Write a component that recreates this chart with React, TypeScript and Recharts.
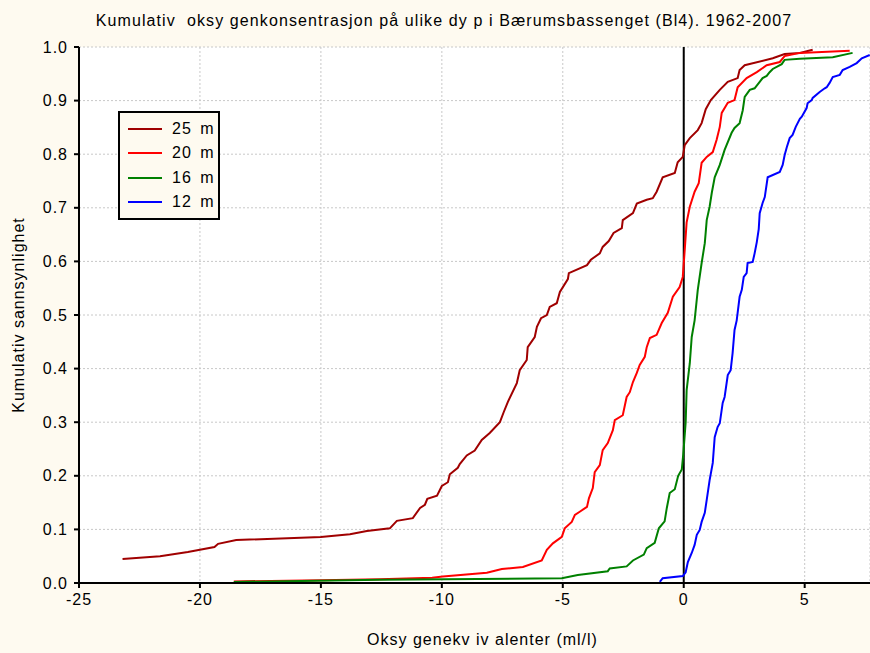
import React from "react";
import {
  LineChart,
  Line,
  XAxis,
  YAxis,
  CartesianGrid,
  ReferenceLine,
} from "recharts";

const xTicks = [-25, -20, -15, -10, -5, 0, 5];
const yTicks = [0, 0.1, 0.2, 0.3, 0.4, 0.5, 0.6, 0.7, 0.8, 0.9, 1.0];

// [oksygenekvivalenter, kumulativ sannsynlighet]
const depth25 = [
  [-23.2, 0.045], [-21.65, 0.05], [-20.5, 0.058], [-19.4, 0.067], [-19.25, 0.073], [-18.5, 0.08],
  [-15.0, 0.086], [-13.8, 0.091], [-13.1, 0.097], [-12.15, 0.102], [-11.86, 0.116], [-11.2, 0.121],
  [-10.9, 0.14], [-10.7, 0.146], [-10.6, 0.157], [-10.2, 0.163], [-10.0, 0.181], [-9.75, 0.188],
  [-9.67, 0.203], [-9.34, 0.215], [-9.26, 0.222], [-8.97, 0.238], [-8.64, 0.247], [-8.35, 0.267],
  [-8.02, 0.28], [-7.6, 0.3], [-7.44, 0.319], [-7.27, 0.338], [-6.9, 0.373], [-6.78, 0.397],
  [-6.49, 0.416], [-6.45, 0.44], [-6.16, 0.459], [-6.07, 0.478], [-5.9, 0.494], [-5.66, 0.5],
  [-5.54, 0.515], [-5.25, 0.522], [-5.12, 0.543], [-4.79, 0.567], [-4.75, 0.578], [-4.0, 0.593],
  [-3.84, 0.603], [-3.47, 0.615], [-3.35, 0.627], [-3.1, 0.638], [-2.9, 0.653], [-2.56, 0.662],
  [-2.52, 0.677], [-2.1, 0.69], [-1.94, 0.708], [-1.53, 0.715], [-1.28, 0.718], [-1.12, 0.73],
  [-0.87, 0.757], [-0.37, 0.765], [-0.25, 0.785], [-0.04, 0.795], [0.04, 0.817], [0.25, 0.83],
  [0.58, 0.845], [0.74, 0.858], [0.91, 0.884], [1.12, 0.901], [1.49, 0.92], [1.82, 0.935],
  [2.23, 0.942], [2.31, 0.957], [2.52, 0.966], [3.68, 0.979], [4.17, 0.987], [4.8, 0.989],
  [5.33, 0.995],
];

const depth20 = [
  [-18.6, 0.003], [-15.0, 0.005], [-12.56, 0.007], [-10.4, 0.01], [-9.96, 0.012], [-8.14, 0.019],
  [-7.52, 0.026], [-6.65, 0.03], [-5.87, 0.042], [-5.66, 0.062], [-5.41, 0.074], [-5.04, 0.086],
  [-4.92, 0.102], [-4.63, 0.114], [-4.5, 0.127], [-4.3, 0.133], [-4.0, 0.142], [-3.92, 0.158],
  [-3.76, 0.177], [-3.68, 0.207], [-3.47, 0.22], [-3.35, 0.248], [-3.14, 0.261], [-2.93, 0.285],
  [-2.85, 0.304], [-2.52, 0.313], [-2.36, 0.347], [-2.23, 0.356], [-2.1, 0.375], [-1.94, 0.392],
  [-1.82, 0.407], [-1.61, 0.422], [-1.53, 0.44], [-1.4, 0.457], [-1.12, 0.463], [-0.91, 0.485],
  [-0.66, 0.504], [-0.45, 0.534], [-0.17, 0.552], [-0.04, 0.571], [0.04, 0.621], [0.12, 0.673],
  [0.25, 0.702], [0.45, 0.73], [0.62, 0.746], [0.74, 0.784], [0.95, 0.795], [1.2, 0.804],
  [1.36, 0.827], [1.49, 0.851], [1.57, 0.877], [1.82, 0.896], [2.1, 0.901], [2.23, 0.925],
  [2.6, 0.942], [3.02, 0.953], [3.43, 0.966], [3.97, 0.972], [4.17, 0.983], [4.8, 0.989],
  [6.86, 0.993],
];

const depth16 = [
  [-18.6, 0.002], [-12.56, 0.006], [-5.04, 0.009], [-4.38, 0.015], [-3.14, 0.022], [-3.06, 0.027],
  [-2.36, 0.031], [-2.1, 0.042], [-1.65, 0.053], [-1.53, 0.065], [-1.2, 0.075], [-1.03, 0.102],
  [-0.79, 0.115], [-0.7, 0.14], [-0.58, 0.168], [-0.37, 0.175], [-0.23, 0.2], [-0.08, 0.212],
  [-0.02, 0.24], [0.08, 0.3], [0.12, 0.36], [0.25, 0.41], [0.33, 0.459], [0.45, 0.49],
  [0.58, 0.547], [0.74, 0.597], [0.87, 0.634], [0.91, 0.655], [0.95, 0.677], [1.07, 0.702],
  [1.16, 0.728], [1.28, 0.757], [1.49, 0.78], [1.69, 0.808], [1.98, 0.84], [2.1, 0.849],
  [2.31, 0.858], [2.44, 0.882], [2.52, 0.907], [2.73, 0.92], [2.93, 0.923], [3.14, 0.935],
  [3.26, 0.942], [3.43, 0.946], [3.55, 0.953], [3.68, 0.959], [4.05, 0.968], [4.17, 0.976],
  [4.8, 0.978], [6.16, 0.981], [6.98, 0.989],
];

const depth12 = [
  [-0.99, 0.002], [-0.87, 0.009], [-0.04, 0.013], [0.08, 0.02], [0.17, 0.039], [0.33, 0.056],
  [0.45, 0.071], [0.54, 0.09], [0.66, 0.099], [0.74, 0.114], [0.87, 0.131], [0.95, 0.155],
  [1.07, 0.192], [1.2, 0.224], [1.28, 0.272], [1.4, 0.291], [1.49, 0.298], [1.61, 0.336],
  [1.69, 0.347], [1.82, 0.388], [1.94, 0.397], [2.02, 0.429], [2.1, 0.472], [2.19, 0.49],
  [2.31, 0.534], [2.4, 0.547], [2.48, 0.571], [2.6, 0.578], [2.64, 0.597], [2.85, 0.599],
  [2.93, 0.615], [3.02, 0.636], [3.1, 0.66], [3.14, 0.69], [3.26, 0.709], [3.35, 0.72],
  [3.47, 0.757], [3.97, 0.767], [4.09, 0.78], [4.17, 0.798], [4.26, 0.813], [4.38, 0.83],
  [4.5, 0.836], [4.63, 0.851], [4.8, 0.866], [4.88, 0.87], [5.08, 0.886], [5.12, 0.895],
  [5.29, 0.901], [5.33, 0.905], [5.62, 0.916], [5.83, 0.923], [5.91, 0.925], [6.03, 0.933],
  [6.16, 0.944], [6.45, 0.948], [6.57, 0.957], [6.86, 0.963], [7.15, 0.97], [7.36, 0.979],
  [7.69, 0.985],
];

const series = [
  { name: "25 m", color: "#a00000", points: depth25 },
  { name: "20 m", color: "#ff0000", points: depth20 },
  { name: "16 m", color: "#008000", points: depth16 },
  { name: "12 m", color: "#0000ff", points: depth12 },
];

const toRows = (pts: number[][]) => pts.map(([x, p]) => ({ x, p }));

const font = "'Liberation Sans', Arial, sans-serif";
const cream = "#fefaf0";
const textStyle = { fill: "#000", fontSize: 16, letterSpacing: 1 };

function LegendBox() {
  return (
    <div
      style={{
        position: "absolute",
        left: 118,
        top: 111,
        width: 98,
        height: 101,
        border: "2px solid #000",
        background: cream,
        fontFamily: font,
        fontSize: 16,
        letterSpacing: 1,
        paddingTop: 4,
        boxSizing: "content-box",
      }}
    >
      {series.map((s) => (
        <div key={s.name} style={{ display: "flex", alignItems: "center", height: 24.3 }}>
          <div style={{ marginLeft: 8, width: 34, height: 2, background: s.color }} />
          <span style={{ marginLeft: 10, wordSpacing: 3 }}>{s.name}</span>
        </div>
      ))}
    </div>
  );
}

export default function App() {
  return (
    <div style={{ position: "absolute", left: 0, top: 0, width: 870, height: 653, background: cream }}>
      <div
        style={{
          position: "absolute",
          left: 0,
          top: 12,
          width: 888,
          textAlign: "center",
          fontFamily: font,
          fontSize: 16,
          letterSpacing: 1.1,
          whiteSpace: "pre",
        }}
      >
        Kumulativ  oksy genkonsentrasjon på ulike dy p i Bærumsbassenget (Bl4). 1962-2007
      </div>
      <LineChart
        width={870}
        height={653}
        margin={{ top: 47, right: 0, bottom: 0, left: 0 }}
        style={{ fontFamily: font }}
      >
        <CartesianGrid stroke="#c8c8c8" strokeDasharray="2 2" fill="#ffffff" />
        <XAxis
          dataKey="x"
          type="number"
          domain={[-25, 7.7]}
          ticks={xTicks}
          allowDataOverflow
          height={70}
          stroke="#000"
          strokeWidth={2}
          tickSize={5}
          tickMargin={6}
          tick={textStyle}
          label={{ value: "Oksy genekv iv alenter (ml/l)", position: "insideBottom", offset: 8, dx: 8, ...textStyle }}
        />
        <XAxis
          xAxisId="top"
          orientation="top"
          dataKey="x"
          type="number"
          domain={[-25, 7.7]}
          ticks={xTicks}
          allowDataOverflow
          height={0}
          stroke="#000"
          strokeWidth={2}
          tick={false}
          tickSize={4}
          mirror
        />
        <YAxis
          type="number"
          domain={[0, 1]}
          ticks={yTicks}
          width={79}
          stroke="#000"
          strokeWidth={2}
          tickSize={5}
          tickMargin={6}
          tickFormatter={(v: number) => v.toFixed(1)}
          tick={textStyle}
          label={{ value: "Kumulativ sannsynlighet", angle: -90, position: "insideLeft", offset: 18, ...textStyle, style: { textAnchor: "middle" } }}
        />
        <ReferenceLine x={0} stroke="#000" strokeWidth={2} />
        {series.map((s) => (
          <Line
            key={s.name}
            data={toRows(s.points)}
            dataKey="p"
            name={s.name}
            type="linear"
            stroke={s.color}
            strokeWidth={2}
            dot={false}
            activeDot={false}
            isAnimationActive={false}
          />
        ))}
      </LineChart>
      <LegendBox />
    </div>
  );
}
